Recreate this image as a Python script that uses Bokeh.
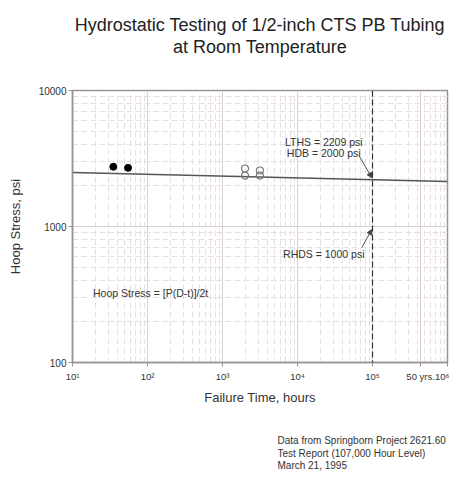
from bokeh.plotting import figure
from bokeh.models import FixedTicker, Label, Arrow, NormalHead, Span, Title
from bokeh.embed import file_html
from bokeh.resources import INLINE

# ---- data ----
filled_hours = [35, 55]
filled_stress = [2750, 2700]
open_hours = [2000, 2000, 3150, 3150]
open_stress = [2670, 2370, 2580, 2370]
fit_hours = [10, 1e6]
fit_stress = [2500, 2140]
hdb_hours = 1e5

x_ticks = [10, 100, 1000, 10000, 100000, 438000, 1000000]
x_tick_labels = ["10\u00b9", "10\u00b2", "10\u00b3", "10\u2074", "10\u2075", "50 yrs.", "10\u2076"]
y_ticks = [100, 1000, 10000]
y_tick_labels = ["100", "1000", "10000"]

title_lines = ["Hydrostatic Testing of 1/2-inch CTS PB Tubing", "at Room Temperature"]
footer_lines = ["Data from Springborn Project 2621.60",
                "Test Report (107,000 Hour Level)",
                "March 21, 1995"]

FONT = "Liberation Sans"
TXT = "#333333"

x_minor = [m * 10 ** d for d in range(1, 6) for m in range(2, 10)]
y_minor = [m * 10 ** d for d in range(2, 4) for m in range(2, 10)]

p = figure(width=449, height=480, x_axis_type="log", y_axis_type="log",
           x_range=(10, 1e6), y_range=(100, 10000),
           output_backend="svg", toolbar_location=None,
           min_border_left=72, min_border_right=2, min_border_top=90,
           min_border_bottom=118)
p.background_fill_color = "white"
p.border_fill_color = "white"
p.outline_line_color = "#9a9292"
p.outline_line_width = 1.5

p.xaxis.ticker = FixedTicker(ticks=x_ticks, minor_ticks=x_minor)
p.yaxis.ticker = FixedTicker(ticks=y_ticks, minor_ticks=y_minor)
p.xaxis.major_label_overrides = {t: l for t, l in zip(x_ticks, x_tick_labels)}
p.yaxis.major_label_overrides = {t: l for t, l in zip(y_ticks, y_tick_labels)}

for ax in (p.xaxis, p.yaxis):
    ax.axis_line_color = "#9a9292"
    ax.axis_line_width = 1.5
    ax.major_tick_line_color = "#9a9292"
    ax.major_tick_in = 0
    ax.major_tick_out = 4
    ax.minor_tick_line_color = None
    ax.major_label_text_font = FONT
    ax.major_label_text_font_size = "10px"
    ax.major_label_text_color = TXT
    ax.axis_label_text_font = FONT
    ax.axis_label_text_font_size = "13px"
    ax.axis_label_text_font_style = "normal"
    ax.axis_label_text_color = TXT

p.xaxis.major_label_text_font_size = "9.5px"
p.xaxis.axis_label = "Failure Time, hours"
p.yaxis.axis_label = "Hoop Stress, psi"
p.xaxis.major_label_standoff = 4
p.yaxis.major_label_standoff = 2
p.xaxis.axis_label_standoff = 5
p.yaxis.axis_label_standoff = 13

p.grid.grid_line_color = "#dad2d2"
p.grid.grid_line_width = 1
p.grid.minor_grid_line_color = "#e8e0e0"
p.grid.minor_grid_line_dash = "6 3"

# fit line
p.line(fit_hours, fit_stress, line_color="#555555", line_width=1.5)
# HDB dashed line
p.add_layout(Span(location=hdb_hours, dimension="height", line_color="#333333",
                  line_dash="6 3", line_width=1.2))

# points
p.scatter(filled_hours, filled_stress, size=7, fill_color="black", line_color="black")
p.scatter(open_hours, open_stress, size=7, fill_color=None, line_color="#777777", line_width=1.2)

# annotations inside the frame
def lab(x, y, t):
    p.add_layout(Label(x=x, y=y, text=t, text_font=FONT, text_font_size="10.5px",
                       text_color=TXT, text_align="center", text_baseline="middle"))

lab(22400, 4150, "LTHS = 2209 psi")
lab(22400, 3500, "HDB = 2000 psi")
lab(22400, 630, "RHDS = 1000 psi")
lab(110, 322, "Hoop Stress = [P(D-t)]/2t")

p.add_layout(Arrow(end=NormalHead(size=5, fill_color="#444444", line_color="#444444"),
                   x_start=66000, y_start=3330, x_end=98000, y_end=2280,
                   line_color="#555555", line_width=1))
p.add_layout(Arrow(end=NormalHead(size=5, fill_color="#444444", line_color="#444444"),
                   x_start=72000, y_start=700, x_end=98000, y_end=950,
                   line_color="#555555", line_width=1))

# title: spacer nearest the frame, then the two centred lines stacked outward
p.add_layout(Title(text=" ", text_font=FONT, text_font_size="1px", standoff=31), "above")
for t in reversed(title_lines):
    p.add_layout(Title(text=t, align="center", text_font=FONT,
                       text_font_size="18px", text_font_style="normal",
                       text_color="#222222", standoff=0), "above")

# footer: spacer below the axis, then the three-line note
p.add_layout(Title(text=" ", text_font=FONT, text_font_size="1px", standoff=23), "below")
p.add_layout(Title(text="\n".join(footer_lines), align="left", offset=205, text_font=FONT,
                   text_font_size="10px", text_font_style="normal", text_line_height=1.15,
                   text_color=TXT, standoff=0), "below")

open("out.html", "w").write(file_html(p, INLINE))
